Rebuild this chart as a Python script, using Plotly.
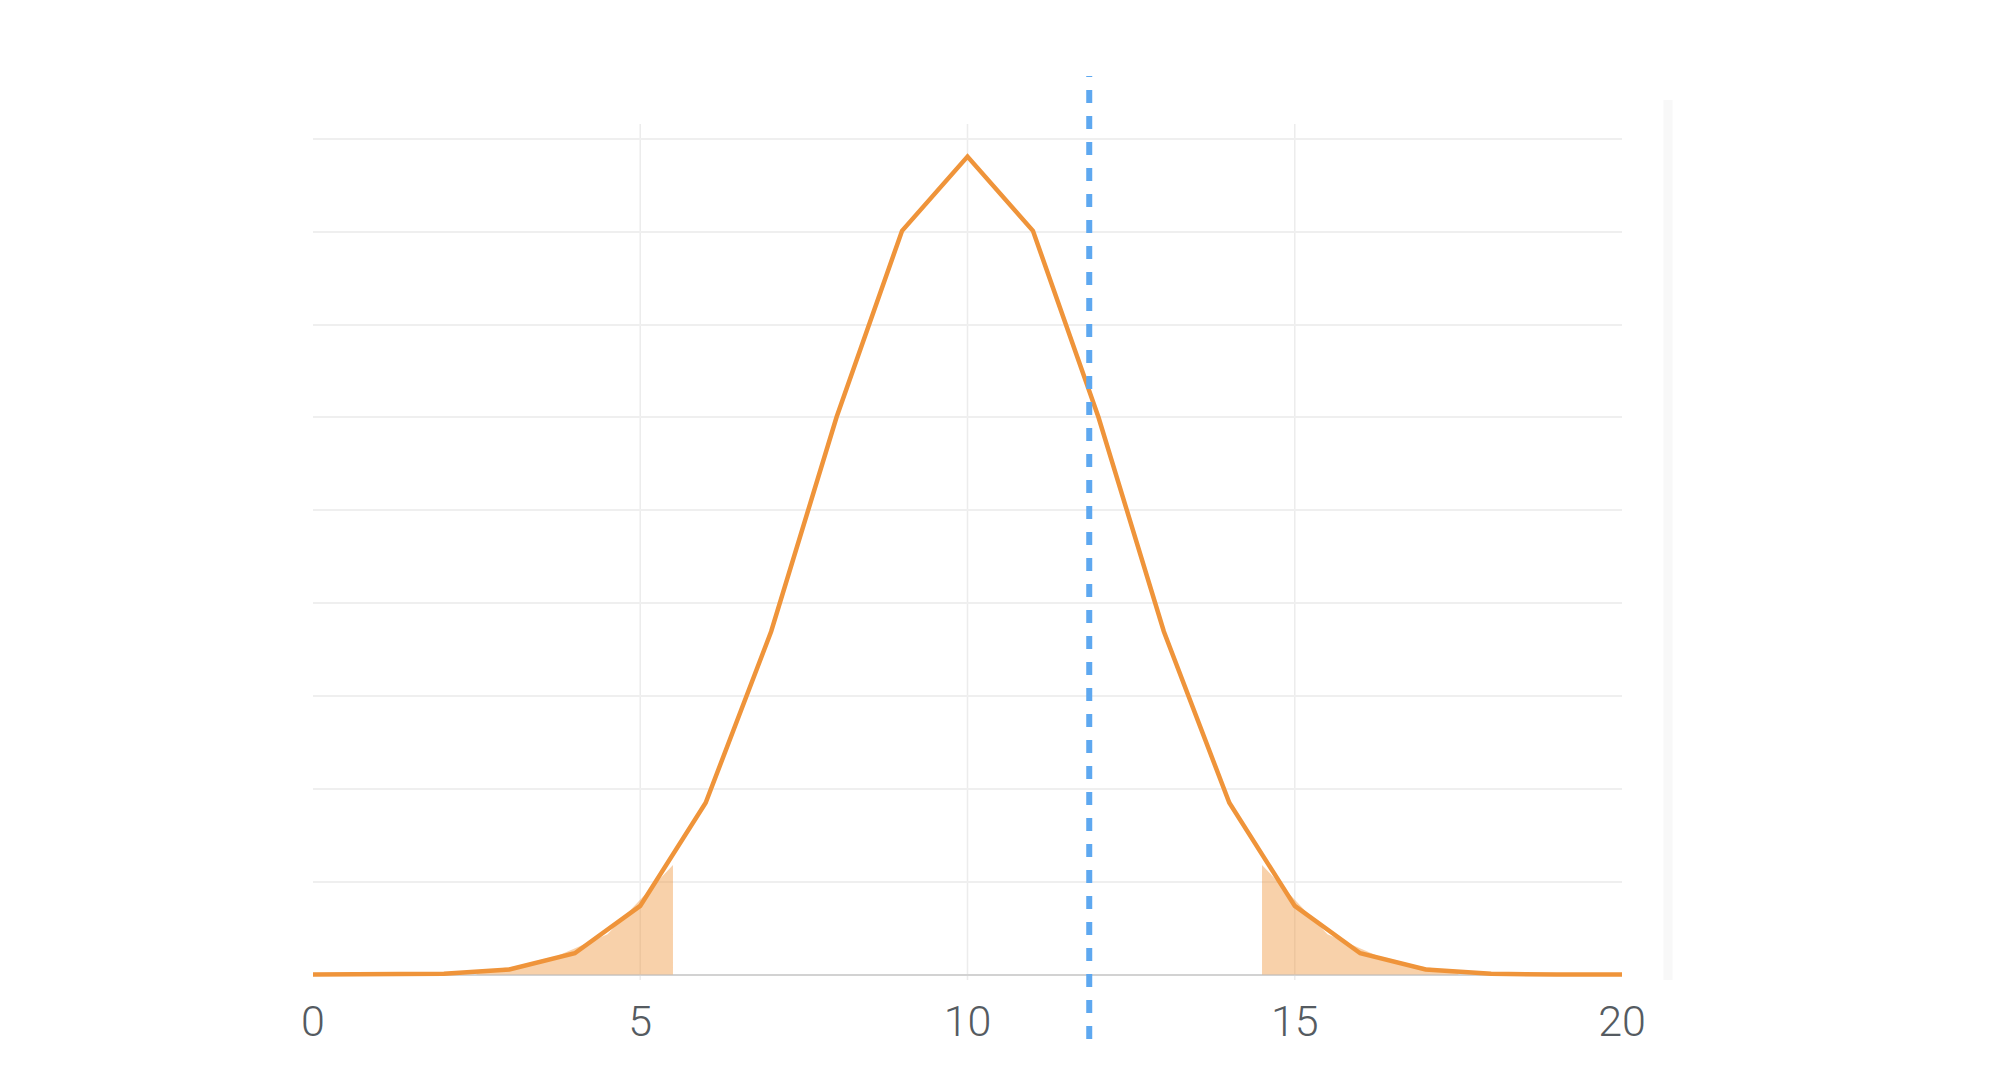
import plotly.graph_objects as go

# Probability of each outcome
outcomes = list(range(0, 21))
probabilities = [0.0000, 0.0000, 0.0002, 0.0011, 0.0046, 0.0148, 0.0370, 0.0739,
                 0.1201, 0.1602, 0.1762, 0.1602, 0.1201, 0.0739, 0.0370, 0.0148,
                 0.0046, 0.0011, 0.0002, 0.0000, 0.0000]

# Shaded tail regions
left_tail_x = [2.5, 3.5, 4.5, 5.5]
left_tail_y = [0.0006, 0.0026, 0.0087, 0.0236]
right_tail_x = [14.5, 15.5, 16.5, 17.5]
right_tail_y = [0.0236, 0.0087, 0.0026, 0.0006]

# Observed value (dashed marker)
observed_value = 11.86

x_ticks = [0, 5, 10, 15, 20]
x_tick_labels = ["0", "5", "10", "15", "20"]
x_grid = [5, 10, 15]

ORANGE = "#ef943a"
SHADE = "rgba(239,146,52,0.42)"
BLUE = "#5ea8f0"

fig = go.Figure()

for tx, ty in [(left_tail_x, left_tail_y), (right_tail_x, right_tail_y)]:
    fig.add_trace(go.Scatter(
        x=tx, y=ty, mode="lines", fill="tozeroy",
        line=dict(width=0, color=SHADE), fillcolor=SHADE,
        hoverinfo="skip", showlegend=False,
    ))

fig.add_trace(go.Scatter(
    x=outcomes, y=probabilities, mode="lines",
    line=dict(color=ORANGE, width=4.5), showlegend=False,
    cliponaxis=False,
))

shapes = []
for gx in x_grid:
    shapes.append(dict(type="line", xref="x", yref="paper", x0=gx, x1=gx, y0=0, y1=1,
                       line=dict(color="#ececec", width=1.5), layer="below"))

# faint vertical bar at the right
shapes.append(dict(type="rect", xref="paper", yref="paper", x0=1.0317, x1=1.0386,
                   y0=0, y1=1.028, fillcolor="#f8f8f8", line=dict(width=0), layer="below"))

# dashed observed-value line
shapes.append(dict(type="line", xref="x", yref="paper", x0=observed_value, x1=observed_value,
                   y0=-0.069, y1=1.056,
                   line=dict(color=BLUE, width=6, dash="13px,13px"), layer="above"))

fig.update_layout(
    width=2016, height=1066,
    margin=dict(l=305, r=402, t=116, b=94, autoexpand=False),
    plot_bgcolor="white", paper_bgcolor="white",
    shapes=shapes,
    xaxis=dict(
        range=[0, 20], tickvals=x_ticks, ticktext=x_tick_labels,
        showgrid=False, zeroline=False, showline=False, ticks="",
        tickfont=dict(family="Roboto", size=43, color="#555b61", weight=300),
        ticklabelstandoff=12,
    ),
    yaxis=dict(
        range=[-0.00116, 0.18321], dtick=0.02, tick0=0,
        showgrid=True, gridcolor="#efefef", gridwidth=1.5,
        zeroline=True, zerolinecolor="#d2d2d2", zerolinewidth=2,
        showticklabels=False, ticks="",
    ),
)

fig.write_html("out.html")
